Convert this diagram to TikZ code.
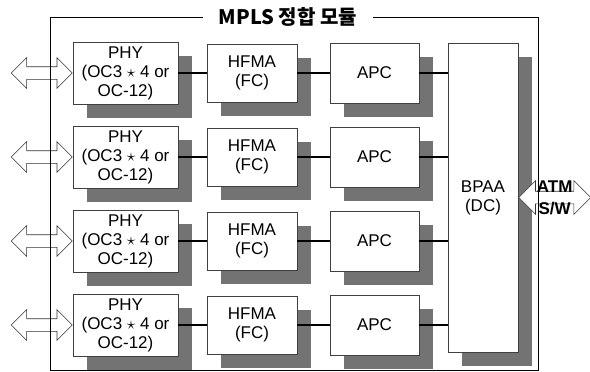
\documentclass[tikz,border=0pt]{standalone}
\usepackage{fontspec}
\setmainfont{Liberation Sans}
\newfontfamily\krfont{Noto Sans CJK KR}
\usetikzlibrary{shapes.arrows,shadows}

\begin{document}
\begin{tikzpicture}[x=1pt,y=-1pt,
 blk/.style={draw=black!75,line width=0.5pt,fill=white,align=center,inner sep=0pt,font=\fontsize{17}{19}\selectfont,
  drop shadow={shadow xshift=14pt,shadow yshift=-14pt,fill=black!55,opacity=1}},
 link/.style={line width=1.3pt,draw=black},
 io/.style={double arrow,draw=black!80,fill=white,line width=0.6pt,inner xsep=0pt,inner ysep=6pt,double arrow head extend=9pt}]
\useasboundingbox (0,0) rectangle (590,372);
\node[blk,minimum width=70pt,minimum height=309pt] (bpaa) at (483,197.5) {BPAA\\(DC)};
\foreach \i/\y in {1/73,2/157,3/241,4/325} {
 \node[blk,minimum width=105pt,minimum height=62pt] (phy\i) at (125.5,\y) {PHY\\(OC3 $\star$ 4 or\\OC-12)};
 \node[blk,minimum width=90pt,minimum height=58pt] (hfma\i) at (252,\y) {HFMA\\(FC)};
 \node[blk,minimum width=89pt,minimum height=60pt] (apc\i) at (374.5,\y) {APC};
 \draw[link] (phy\i) -- (hfma\i);
 \draw[link] (hfma\i) -- (apc\i);
 \draw[link] (apc\i) -- (apc\i -| bpaa.west);
 \node[io,minimum height=61pt,anchor=east] (in\i) at (phy\i.west) {};
}
\node[io,double arrow head extend=10.5pt,minimum height=72pt,anchor=west] (atm) at (bpaa.east) {};
\node[align=center,font=\bfseries\fontsize{17}{22}\selectfont] (atmtxt) at (atm) {ATM\\S/W};
% module frame
\draw[line width=0.8pt] (50,17) rectangle (538,370);
\node[fill=white,inner xsep=16pt,inner ysep=2pt,font=\krfont\bfseries\fontsize{20}{22}\selectfont] (title) at (288,17) {MPLS 정합 모듈};
\end{tikzpicture}
\end{document}
